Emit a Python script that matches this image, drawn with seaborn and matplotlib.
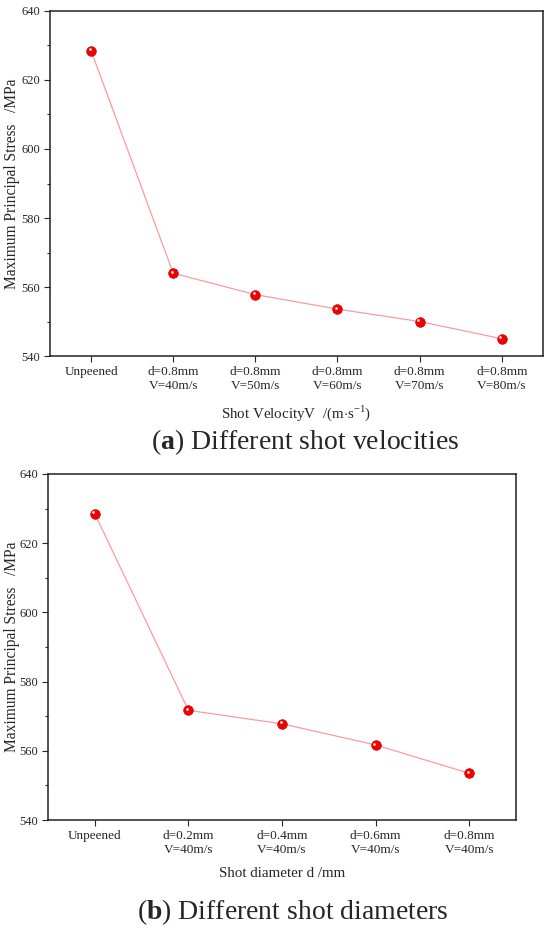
import numpy as np
import pandas as pd
import matplotlib
matplotlib.use("Agg")
import matplotlib.pyplot as plt
from matplotlib.ticker import MultipleLocator
from matplotlib.transforms import offset_copy
import seaborn as sns

# (a) shot velocity series
vel_labels = ['Unpeened', 'd=0.8mm\nV=40m/s', 'd=0.8mm\nV=50m/s', 'd=0.8mm\nV=60m/s',
              'd=0.8mm\nV=70m/s', 'd=0.8mm\nV=80m/s']
vel_stress = [628.5, 564.0, 557.8, 553.6, 550.0, 545.0]

# (b) shot diameter series
dia_labels = ['Unpeened', 'd=0.2mm\nV=40m/s', 'd=0.4mm\nV=40m/s', 'd=0.6mm\nV=40m/s',
              'd=0.8mm\nV=40m/s']
dia_stress = [628.5, 571.7, 567.8, 561.7, 553.5]

y_ticks = [540, 560, 580, 600, 620, 640]

sns.set_style('ticks')
plt.rcParams['font.family'] = ['Liberation Serif', 'DejaVu Serif']
plt.rcParams['mathtext.fontset'] = 'custom'
plt.rcParams['mathtext.rm'] = 'Liberation Serif'
plt.rcParams['mathtext.bf'] = 'Liberation Serif:bold'
plt.rcParams['xtick.direction'] = 'out'
plt.rcParams['ytick.direction'] = 'out'

fig = plt.figure(figsize=(5.5, 9.31), dpi=100)
ax1 = fig.add_axes([0.0909, 0.6176, 0.8961, 0.3706])
ax2 = fig.add_axes([0.0873, 0.1192, 0.8509, 0.3717])


def draw(ax, labels, values, xlabel):
    df = pd.DataFrame({'pos': np.arange(len(labels)), 'stress': values})
    sns.lineplot(data=df, x='pos', y='stress', ax=ax, color='#ff9a9a', lw=0.9, zorder=2)
    sns.scatterplot(data=df, x='pos', y='stress', ax=ax, color='#f00000', s=48,
                    edgecolor='#d00000', linewidth=0.5, zorder=3)
    # little shine on each ball
    shine = offset_copy(ax.transData, fig=fig, x=-1.0, y=1.0, units='points')
    ax.scatter(df['pos'], df['stress'], s=4, color='#ffe0e0', linewidth=0,
               transform=shine, zorder=4)
    ax.set_xlim(-0.5, len(labels) - 0.5)
    ax.set_ylim(540, 640)
    ax.set_xticks(df['pos'])
    ax.set_xticklabels(labels, fontsize=9.5, linespacing=1.25)
    ax.set_yticks(y_ticks)
    ax.tick_params(axis='y', labelsize=9, length=4, width=0.8, pad=3)
    ax.tick_params(axis='x', length=4, width=0.8, pad=3)
    ax.yaxis.set_minor_locator(MultipleLocator(10))
    ax.tick_params(axis='y', which='minor', length=2.5, width=0.8)
    ax.set_ylabel('Maximum Principal Stress   /MPa', fontsize=11.2)
    ax.set_xlabel(xlabel, fontsize=10.8, labelpad=8)
    for sp in ax.spines.values():
        sp.set_linewidth(1.1)
        sp.set_color('#222222')


draw(ax1, vel_labels, vel_stress, 'Shot VelocityV  /(m$\\cdot$s$^{-1}$)')
draw(ax2, dia_labels, dia_stress, 'Shot diameter d /mm')

# put both y labels at the same distance from the figure's left edge
for ax in (ax1, ax2):
    x_fig = 20 / 550
    x_ax = (x_fig - ax.get_position().x0) / ax.get_position().width
    ax.yaxis.set_label_coords(x_ax, 0.5)

fig.text(0.555, 0.525, r'($\mathbf{a}$) Different shot velocities', ha='center', va='center',
         fontsize=20)
fig.text(0.533, 0.0204, r'($\mathbf{b}$) Different shot diameters', ha='center', va='center',
         fontsize=20)

fig.savefig('out.png', dpi=100)
